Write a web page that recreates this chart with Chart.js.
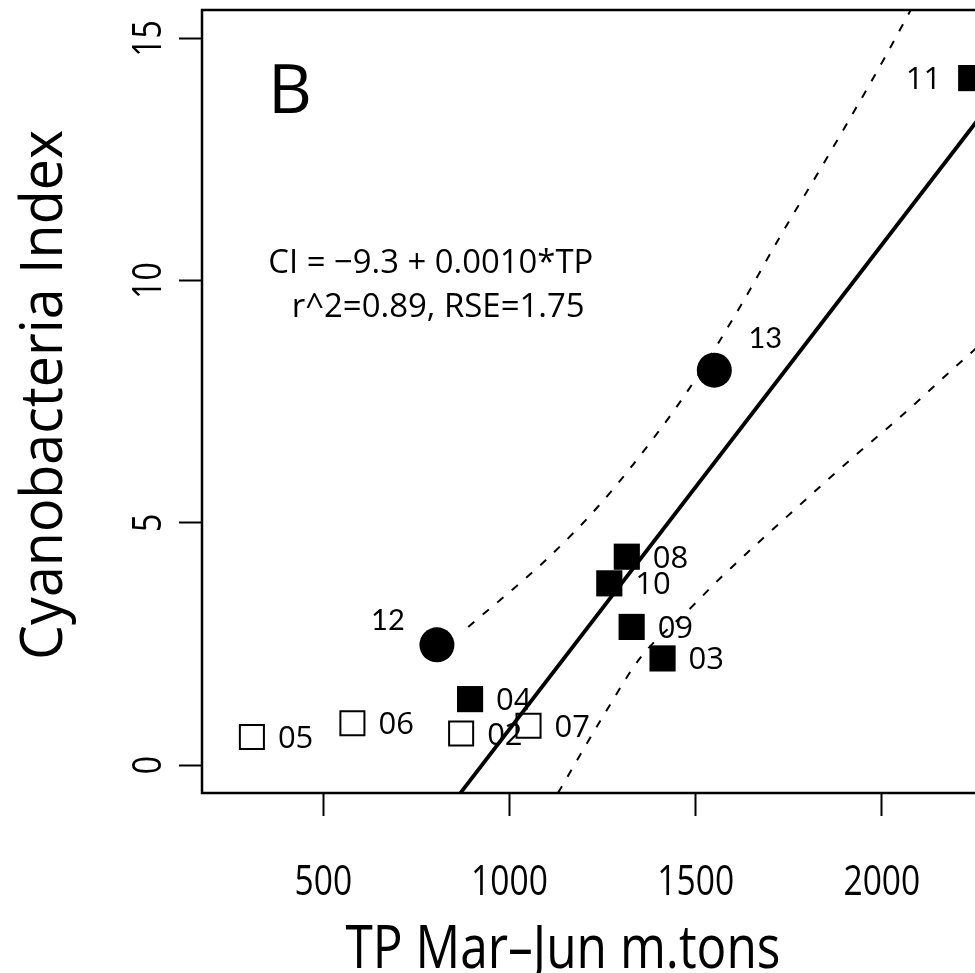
<!DOCTYPE html>
<html lang="en">
<head>
<meta charset="utf-8">
<title>Cyanobacteria Index x TP</title>
<script src="https://cdn.jsdelivr.net/npm/chart.js@4.4.1/dist/chart.umd.min.js"></script>
<style>
  html, body { margin: 0; padding: 0; background: #fff; overflow: hidden; }
  #quadro { width: 975px; height: 973px; overflow: hidden; }
</style>
</head>
<body>
<div id="quadro"><canvas id="grafico" width="1090" height="973"></canvas></div>
<script>
// anos com quadrado vazio
const anosVazios = ["05", "06", "02", "07"];
const tpVazios = [308, 578, 870, 1051];
const ciVazios = [0.58, 0.86, 0.65, 0.81];

// anos com quadrado cheio
const anosCheios = ["04", "10", "08", "09", "03", "11"];
const tpCheios = [894, 1268, 1315, 1328, 1411, 2240];
const ciCheios = [1.36, 3.75, 4.30, 2.85, 2.20, 14.18];

// anos previstos (circulos)
const anosCirculos = ["12", "13"];
const tpCirculos = [805, 1550];
const ciCirculos = [2.48, 8.15];

// reta ajustada e bandas tracejadas
const tpReta = [860, 2320];
const ciReta = [-0.66, 13.94];
const tpBandaSup = [889, 1100, 1243, 1400, 1500, 1620, 1726, 1850, 2004, 2080];
const ciBandaSup = [2.85, 4.25, 5.38, 6.88, 7.97, 9.47, 10.9, 12.5, 14.55, 15.62];
const tpBandaInf = [1130, 1261, 1350, 1490, 1565, 1780, 1924, 2040, 2238, 2320];
const ciBandaInf = [-0.58, 1.13, 2.20, 3.27, 3.85, 5.37, 6.36, 7.12, 8.50, 9.04];

const ticksX = [500, 1000, 1500, 2000];
const ticksY = [0, 5, 10, 15];

const tituloX = "TP Mar\u2013Jun m.tons";
const tituloY = "Cyanobacteria Index";
const equacao1 = "CI = \u22129.3 + 0.0010*TP";
const equacao2 = "r^2=0.89, RSE=1.75";
const letraPainel = "B";

const FONTE = "'Open Sans'";
// o Chart.js reserva em cima o raio dos marcadores (19px); a moldura sobe ate 10px
const TOPO_MOLDURA = 10;

function pares(xs, ys) {
  return xs.map((x, i) => ({ x: x, y: ys[i] }));
}

function escrever(ctx, texto, x, y, tamanho, opcoes) {
  const op = opcoes || {};
  ctx.save();
  ctx.font = `${tamanho}px ${op.familia || FONTE}`;
  let sx = op.escala || 1;
  if (op.largura) sx = op.largura / ctx.measureText(texto).width;
  ctx.translate(x, y);
  if (op.girar) ctx.rotate(-Math.PI / 2);
  ctx.scale(sx, 1);
  ctx.textAlign = op.alinhar || "left";
  ctx.textBaseline = "alphabetic";
  ctx.fillStyle = "#000";
  ctx.fillText(texto, 0, 0);
  ctx.restore();
}

const pluginMoldura = {
  id: "moldura",
  afterDraw(chart) {
    const ctx = chart.ctx;
    const area = chart.chartArea;
    const sx = chart.scales.x;
    const sy = chart.scales.y;

    ctx.save();
    ctx.lineWidth = 2.5;
    ctx.strokeStyle = "#000";
    ctx.strokeRect(area.left, TOPO_MOLDURA, area.right - area.left, area.bottom - TOPO_MOLDURA);
    ctx.restore();

    // rotulos dos eixos
    ticksX.forEach(v => {
      escrever(ctx, String(v), sx.getPixelForValue(v), 895, 42, { alinhar: "center", escala: 0.8 });
    });
    ticksY.forEach(v => {
      escrever(ctx, String(v), 161, sy.getPixelForValue(v), 40, { alinhar: "center", escala: 0.8, girar: true });
    });

    escrever(ctx, tituloX, 563, 968, 60, { alinhar: "center", largura: 435 });
    escrever(ctx, tituloY, 62, 395, 58, { alinhar: "center", largura: 530, girar: true });

    escrever(ctx, letraPainel, 268, 112.7, 68);
    escrever(ctx, equacao1, 268.3, 273.3, 33, { largura: 325 });
    escrever(ctx, equacao2, 291.7, 316.7, 33, { largura: 293 });

    // nomes dos anos ao lado dos pontos
    const anos = anosVazios.concat(anosCheios);
    const tps = tpVazios.concat(tpCheios);
    const cis = ciVazios.concat(ciCheios);
    anos.forEach((ano, i) => {
      const px = sx.getPixelForValue(tps[i]);
      const py = sy.getPixelForValue(cis[i]);
      if (ano === "11") {
        escrever(ctx, ano, px - 30, py + 11, 31, { alinhar: "right" });
      } else {
        escrever(ctx, ano, px + 26, py + 11, 31);
      }
    });

    const desvios = { "12": [-49, -25], "13": [51, -33] };
    anosCirculos.forEach((ano, i) => {
      const px = sx.getPixelForValue(tpCirculos[i]) + desvios[ano][0];
      const py = sy.getPixelForValue(ciCirculos[i]) + desvios[ano][1];
      escrever(ctx, ano, px, py + 10.5, 29, { alinhar: "center", familia: "Lato" });
    });
  }
};

function desenharGrafico() {
  const ctx = document.getElementById("grafico").getContext("2d");

  const eixoBase = {
    type: "linear",
    ticks: { display: false },
    border: { display: false },
    grid: {
      drawOnChartArea: false,
      drawTicks: true,
      tickLength: 23,
      tickWidth: 2,
      tickColor: "#000"
    }
  };

  const recorte = { top: 9, left: 0, right: 0, bottom: 0 };

  new Chart(ctx, {
    type: "scatter",
    data: {
      datasets: [
        {
          type: "line",
          data: pares(tpReta, ciReta),
          borderColor: "#000",
          borderWidth: 3.8,
          pointRadius: 0,
          clip: recorte,
          fill: false
        },
        {
          type: "line",
          data: pares(tpBandaSup, ciBandaSup),
          borderColor: "#000",
          borderWidth: 2,
          borderDash: [8, 11],
          pointRadius: 0,
          cubicInterpolationMode: "monotone",
          clip: recorte,
          fill: false
        },
        {
          type: "line",
          data: pares(tpBandaInf, ciBandaInf),
          borderColor: "#000",
          borderWidth: 2,
          borderDash: [8, 11],
          pointRadius: 0,
          cubicInterpolationMode: "monotone",
          clip: recorte,
          fill: false
        },
        {
          data: pares(tpVazios, ciVazios),
          pointStyle: "rect",
          pointRadius: 17,
          backgroundColor: "rgba(0,0,0,0)",
          borderColor: "#000",
          borderWidth: 2
        },
        {
          data: pares(tpCheios, ciCheios),
          pointStyle: "rect",
          pointRadius: 18.5,
          backgroundColor: "#000",
          borderColor: "#000",
          borderWidth: 0
        },
        {
          data: pares(tpCirculos, ciCirculos),
          pointStyle: "circle",
          pointRadius: 17.5,
          backgroundColor: "#000",
          borderColor: "#000",
          borderWidth: 0
        }
      ]
    },
    options: {
      responsive: false,
      animation: false,
      layout: { padding: { top: 19, right: 22, left: 0, bottom: 0 } },
      plugins: {
        legend: { display: false },
        tooltip: { enabled: false }
      },
      scales: {
        x: Object.assign({}, eixoBase, {
          min: 174,
          max: 2500,
          afterBuildTicks: s => { s.ticks = ticksX.map(v => ({ value: v })); },
          afterFit: s => { s.height = 180; }
        }),
        y: Object.assign({}, eixoBase, {
          min: -0.578,
          max: 15.40,
          afterBuildTicks: s => { s.ticks = ticksY.map(v => ({ value: v })); },
          afterFit: s => {
            s.width = 202;
            s.paddingTop = 0;
            s.paddingBottom = 0;
          }
        })
      }
    },
    plugins: [pluginMoldura]
  });
}

Promise.all([
  document.fonts.load("30px 'Open Sans'"),
  document.fonts.load("29px Lato")
]).then(desenharGrafico, desenharGrafico);
</script>
</body>
</html>
